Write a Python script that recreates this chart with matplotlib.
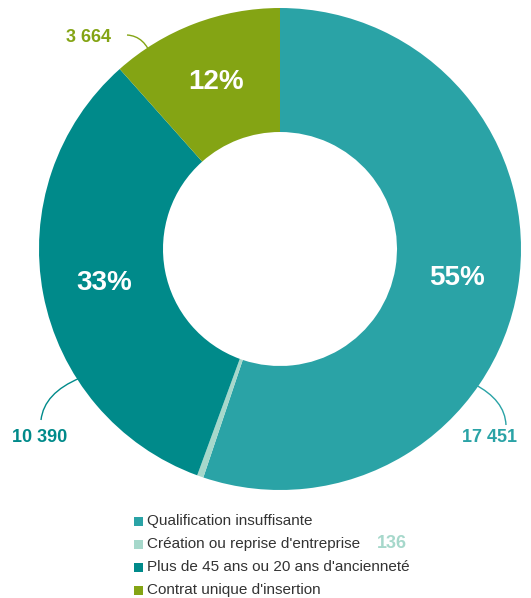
import matplotlib.pyplot as plt
from matplotlib.path import Path
from matplotlib.patches import PathPatch, Rectangle

plt.rcParams['font.family'] = ['Liberation Sans', 'DejaVu Sans']

categories = ["Qualification insuffisante",
              "Création ou reprise d'entreprise",
              "Plus de 45 ans ou 20 ans d'ancienneté",
              "Contrat unique d'insertion"]
values = [17451, 136, 10390, 3664]
colors = ["#2aa3a6", "#a6d8cb", "#008a8a", "#84a414"]
value_labels = ["17 451", "136", "10 390", "3 664"]

W, H = 531, 598
fig = plt.figure(figsize=(W / 100, H / 100), dpi=100)
ax = fig.add_axes([0, 0, 1, 1])

cx, cy = 280, H - 249
R, r_in = 241, 117

wedges, _ = ax.pie(values, colors=colors, startangle=90, counterclock=False,
                   center=(cx, cy), radius=R,
                   wedgeprops=dict(width=R - r_in, linewidth=0))
ax.set_xlim(0, W)
ax.set_ylim(0, H)
ax.set_aspect('equal')
ax.axis('off')

total = sum(values)
import numpy as np
# percentage labels in the middle of the ring (skip the tiny slice)
start = 90.0
for i, v in enumerate(values):
    sweep = 360.0 * v / total
    mid = np.deg2rad(start - sweep / 2)
    start -= sweep
    if v / total < 0.05:
        continue
    rm = (R + r_in) / 2
    ax.text(cx + rm * np.cos(mid), cy + rm * np.sin(mid),
            f"{round(100 * v / total)}%", color="white", fontsize=20,
            fontweight="bold", ha="center", va="center")


def leader(p0, p1, p2, color):
    path = Path([(p0[0], H - p0[1]), (p1[0], H - p1[1]), (p2[0], H - p2[1])],
                [Path.MOVETO, Path.CURVE3, Path.CURVE3])
    ax.add_patch(PathPatch(path, fill=False, edgecolor=color, lw=1.0))


leader((474, 384), (505, 400), (506, 425), colors[0])
ax.text(490, H - 437, value_labels[0], color=colors[0], fontsize=13,
        fontweight="bold", ha="center", va="center")

leader((80, 378), (44, 393), (41, 420), colors[2])
ax.text(40, H - 437, value_labels[2], color=colors[2], fontsize=13,
        fontweight="bold", ha="center", va="center")

leader((127, 35), (145, 36), (152, 58), colors[3])
ax.text(88, H - 37, value_labels[3], color=colors[3], fontsize=13,
        fontweight="bold", ha="center", va="center")

# legend
rows_y = [521, 544, 567, 590]
for name, col, y in zip(categories, colors, rows_y):
    ax.add_patch(Rectangle((134, H - y - 4.5), 9, 9, color=col, lw=0))
    ax.text(147, H - y, name, fontsize=11, color="#333333",
            ha="left", va="center")
ax.text(377, H - 544, value_labels[1], color=colors[1], fontsize=13,
        fontweight="bold", ha="left", va="center")

fig.savefig("out.png", dpi=100)
